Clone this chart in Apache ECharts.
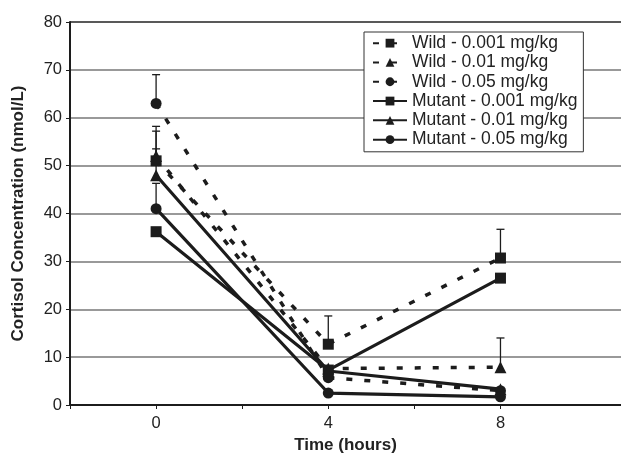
<!DOCTYPE html>
<html>
<head>
<meta charset="utf-8">
<script src="https://cdn.jsdelivr.net/npm/echarts@6/dist/echarts.min.js"></script>
<style>
  html, body { margin: 0; padding: 0; background: #fff; }
  #chart { width: 621px; height: 454px; }
</style>
</head>
<body>
<div id="chart"></div>
<script>
// time points (hours)
const hours = [0, 4, 8]

// means
const wild001 = [51, 12.7, 30.7]
const wild01 = [52, 7.6, 7.9]
const wild05 = [63, 5.7, 3.0]
const mutant001 = [36.2, 7.3, 26.5]
const mutant01 = [48, 7.1, 3.3]
const mutant05 = [41, 2.5, 1.7]

// top of upper error bars (null = none drawn)
const wild001Err = [57.2, 18.6, 36.7]
const wild01Err = [58.2, null, 14]
const wild05Err = [69, null, null]
const mutant01Err = [53.5, null, null]
const mutant05Err = [46.3, null, null]

const yTicks = [0, 10, 20, 30, 40, 50, 60, 70, 80]
const xLabels = [0, 4, 8]

const ink = '#1c1c1c'
const dashed = { width: 3.5, type: [6, 12], color: ink }
const solid = { width: 3.2, type: 'solid', color: ink }

function pts(vals) {
    return hours.map((h, i) => [h, vals[i]])
}

function lineSeries(name, vals, symbol, style) {
    return {
        name: name,
        type: 'line',
        data: pts(vals),
        symbol: symbol,
        symbolSize: symbol === 'triangle' ? 12 : 11,
        showSymbol: true,
        itemStyle: { color: ink },
        lineStyle: style,
        z: 3,
        animation: false
    }
}

let errData = []
;[[wild001, wild001Err], [wild01, wild01Err], [wild05, wild05Err],
  [mutant01, mutant01Err], [mutant05, mutant05Err]].forEach(([vals, errs]) => {
    hours.forEach((h, i) => {
        if (errs[i] != null) errData.push([h, vals[i], errs[i]])
    })
})

const option = {
    animation: false,
    textStyle: { fontFamily: 'Liberation Sans, Arial, sans-serif' },
    grid: { left: 70, right: 0, top: 22, bottom: 49, containLabel: false, outerBoundsMode: 'none' },
    xAxis: {
        type: 'value',
        min: -2,
        max: 10.8,
        interval: 2,
        name: 'Time (hours)',
        nameLocation: 'middle',
        nameGap: 31,
        nameTextStyle: { fontSize: 17, fontWeight: 'bold', color: '#222' },
        axisLine: { onZero: false, lineStyle: { color: ink, width: 2 } },
        axisTick: { customValues: [-2, 0, 2, 4, 6, 8], length: 4, lineStyle: { color: ink } },
        axisLabel: { customValues: xLabels, fontSize: 16.5, color: '#222', margin: 10 },
        splitLine: { show: false }
    },
    yAxis: {
        type: 'value',
        min: 0,
        max: 80,
        interval: 10,
        name: 'Cortisol Concentration (nmol/L)',
        nameLocation: 'middle',
        nameGap: 43,
        nameTextStyle: { fontSize: 17, fontWeight: 'bold', color: '#222' },
        axisLine: { show: true, onZero: false, lineStyle: { color: ink, width: 2 } },
        axisTick: { show: true, length: 4, lineStyle: { color: ink } },
        axisLabel: { fontSize: 16.5, color: '#222', margin: 8,
            customValues: yTicks },
        splitLine: {
            show: true,
            lineStyle: { width: 1.5, color: ['#777', '#777', '#777', '#777', '#777', '#777', '#777', '#777', '#222'] }
        }
    },
    legend: {
        orient: 'vertical',
        left: 364,
        top: 32,
        width: 218,
        padding: [2, 6, 3, 8],
        itemWidth: 34,
        itemHeight: 11,
        itemGap: 1,
        backgroundColor: '#fff',
        borderColor: '#333',
        borderWidth: 1,
        textStyle: { fontSize: 17.5, color: '#222', lineHeight: 18.3 },
        data: ['Wild - 0.001 mg/kg', 'Wild - 0.01 mg/kg', 'Wild - 0.05 mg/kg',
               'Mutant - 0.001 mg/kg', 'Mutant - 0.01 mg/kg', 'Mutant - 0.05 mg/kg']
    },
    series: [
        lineSeries('Wild - 0.001 mg/kg', wild001, 'rect', dashed),
        lineSeries('Wild - 0.01 mg/kg', wild01, 'triangle', dashed),
        lineSeries('Wild - 0.05 mg/kg', wild05, 'circle', dashed),
        lineSeries('Mutant - 0.001 mg/kg', mutant001, 'rect', solid),
        lineSeries('Mutant - 0.01 mg/kg', mutant01, 'triangle', solid),
        lineSeries('Mutant - 0.05 mg/kg', mutant05, 'circle', solid),
        {
            type: 'custom',
            z: 2,
            data: errData,
            renderItem: function (params, api) {
                const base = api.coord([api.value(0), api.value(1)])
                const top = api.coord([api.value(0), api.value(2)])
                return {
                    type: 'group',
                    children: [
                        { type: 'line', shape: { x1: base[0], y1: base[1], x2: top[0], y2: top[1] },
                          style: { stroke: ink, lineWidth: 1.3 } },
                        { type: 'line', shape: { x1: top[0] - 4, y1: top[1], x2: top[0] + 4, y2: top[1] },
                          style: { stroke: ink, lineWidth: 1.3 } }
                    ]
                }
            }
        }
    ]
}

let mychart = echarts.init(document.getElementById('chart'))
mychart.setOption(option)
</script>
</body>
</html>
